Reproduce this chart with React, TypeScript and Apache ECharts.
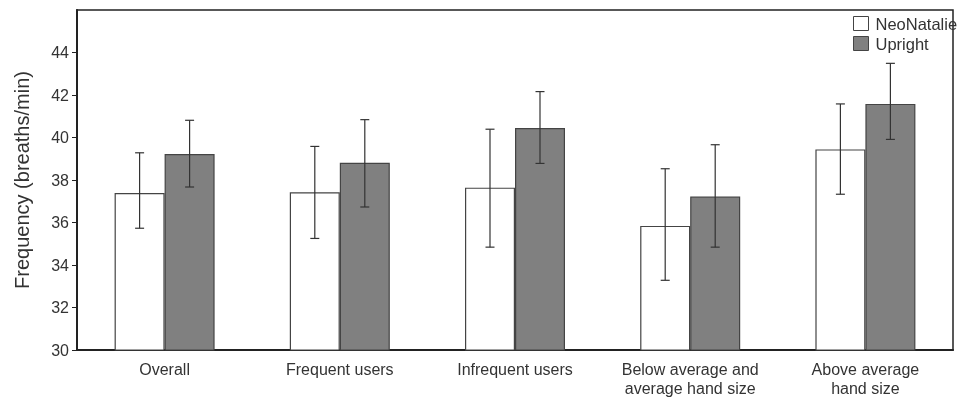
import React, { useEffect, useRef } from "react";
import * as echarts from "echarts";

const categories = [
  "Overall",
  "Frequent users",
  "Infrequent users",
  "Below average and\naverage hand size",
  "Above average\nhand size",
];
const neoMean = [37.39, 37.42, 37.64, 35.84, 39.44];
const neoLow = [35.73, 35.25, 34.84, 33.28, 37.33];
const neoHigh = [39.28, 39.58, 40.39, 38.53, 41.58];
const upMean = [39.22, 38.81, 40.45, 37.22, 41.58];
const upLow = [37.67, 36.73, 38.78, 34.84, 39.91];
const upHigh = [40.81, 40.84, 42.16, 39.66, 43.49];
const yTicks = [30, 32, 34, 36, 38, 40, 42, 44];

const FONT = "'Liberation Sans', Arial, sans-serif";
const TXT = "#333";

function errSeries(low: number[], high: number[], dx: number) {
  return {
    type: "custom",
    silent: true,
    z: 5,
    data: low.map((l, i) => [i, l, high[i]]),
    encode: { x: 0, y: [1, 2] },
    renderItem: (params: any, api: any) => {
      const x = api.value(0);
      const lo = api.coord([x, api.value(1)]);
      const hi = api.coord([x, api.value(2)]);
      const cx = lo[0] + dx;
      const cap = 4.5;
      const style = { stroke: "#333", lineWidth: 1.2 };
      return {
        type: "group",
        children: [
          { type: "line", shape: { x1: cx, y1: lo[1], x2: cx, y2: hi[1] }, style },
          { type: "line", shape: { x1: cx - cap, y1: lo[1], x2: cx + cap, y2: lo[1] }, style },
          { type: "line", shape: { x1: cx - cap, y1: hi[1], x2: cx + cap, y2: hi[1] }, style },
        ],
      };
    },
  };
}

export default function App() {
  const ref = useRef<HTMLDivElement>(null);
  useEffect(() => {
    const chart = echarts.init(ref.current!, null, { renderer: "svg" });
    chart.setOption({
      animation: false,
      textStyle: { fontFamily: FONT },
      grid: {
        left: 77,
        right: 10,
        top: 10,
        bottom: 46,
        show: true,
        borderColor: "#222",
        borderWidth: 1.5,
      },
      legend: {
        orient: "vertical",
        left: 848,
        top: 10,
        itemWidth: 15,
        itemHeight: 14,
        itemGap: 3,
        icon: "rect",
        textStyle: { fontSize: 16.5, color: TXT, fontFamily: FONT, lineHeight: 16, padding: [0, 0, 0, 2] },
        itemStyle: { borderColor: "#444", borderWidth: 1 },
        data: ["NeoNatalie", "Upright"],
      },
      xAxis: {
        type: "category",
        data: categories,
        axisLine: { show: true, lineStyle: { color: "#222", width: 2 } },
        axisTick: { show: false },
        axisLabel: { fontSize: 16, color: TXT, fontFamily: FONT, margin: 10, lineHeight: 19, interval: 0 },
      },
      yAxis: {
        type: "value",
        min: 30,
        max: 46,
        interval: 2,
        name: "Frequency (breaths/min)",
        nameLocation: "middle",
        nameGap: 45,
        nameTextStyle: { fontSize: 20, color: TXT, fontFamily: FONT },
        splitLine: { show: false },
        axisLine: { show: true, lineStyle: { color: "#222", width: 2 } },
        axisTick: { show: true, length: 5, lineStyle: { color: "#222" }, customValues: yTicks },
        axisLabel: { fontSize: 16, color: TXT, fontFamily: FONT, margin: 8, customValues: yTicks },
      },
      series: [
        {
          name: "NeoNatalie",
          type: "bar",
          data: neoMean,
          barWidth: 50,
          barGap: "0%",
          itemStyle: { color: "#ffffff", borderColor: "#444", borderWidth: 1.2 },
        },
        {
          name: "Upright",
          type: "bar",
          data: upMean,
          barWidth: 50,
          barGap: "0%",
          itemStyle: { color: "#808080", borderColor: "#444", borderWidth: 1.2 },
        },
        errSeries(neoLow, neoHigh, -25),
        errSeries(upLow, upHigh, 25),
      ],
    });
    return () => chart.dispose();
  }, []);
  return (
    <div
      ref={ref}
      style={{ position: "fixed", left: 0, top: 0, width: 963, height: 398 }}
    />
  );
}
